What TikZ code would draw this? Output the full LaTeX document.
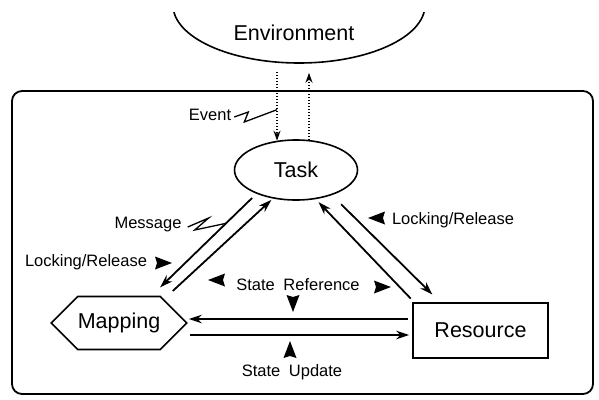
\documentclass[tikz,border=0pt]{standalone}
\usepackage{fontspec}
\setmainfont{Liberation Sans}
\usetikzlibrary{positioning, arrows.meta, shapes.geometric, shapes.symbols}

\tikzset{
  block/.style={draw, line width=1.6pt, font=\fontsize{21.5}{24}\selectfont, inner sep=0pt},
  note/.style={font=\fontsize{16.5}{19}\selectfont, inner sep=0pt},
  flow/.style={line width=1.8pt, -{Stealth[length=13pt,width=8.5pt]}},
  cast/.style={line width=1.8pt, dash pattern=on 1.6pt off 1.4pt, -{Stealth[length=10pt,width=7pt]}},
  bolt/.style={line width=1.3pt, line join=miter},
  cue/.pic={\fill (9,0) -- (-8,6.5) -- (-6,0) -- (-8,-6.5) -- cycle;}
}

\begin{document}
\begin{tikzpicture}[x=1pt,y=-1pt]
\fill[white] (0,0) rectangle (599,399);
\useasboundingbox (0,0) rectangle (599,399);

% environment, only its lower half shows
\begin{scope}
  \clip (0,12) rectangle (599,399);
  \node[draw, ellipse, line width=1.6pt, minimum width=252pt, minimum height=116pt] (env) at (299,5) {};
\end{scope}
\node[font=\fontsize{21.5}{24}\selectfont] (envlabel) at (294,33) {Environment};

% system frame
\draw[line width=1.8pt, rounded corners=10pt] (12,91) rectangle (593,394);

% task, mapping, resource
\node[block, ellipse, minimum width=123pt, minimum height=60pt] (task) at (296,170) {Task};
\node[block, signal, signal to=west and east, signal pointer angle=90,
      minimum width=132pt, minimum height=53pt] (map) at (119,323) {Mapping};
\node[block, rectangle, minimum width=135pt, minimum height=55pt] (res) at (480.5,330.5) {Resource};

% events in and out
\draw[cast] ([xshift=-22pt,yshift=-8pt]env.south) -- coordinate[pos=0.55] (evhit) ([xshift=-19pt,yshift=-1.5pt]task.north);
\draw[cast] ([xshift=13pt,yshift=-1pt]task.north) -- ([xshift=10pt,yshift=-9pt]env.south);

% task <-> mapping
\draw[flow, shorten <=6pt, shorten >=12pt] (task.211) -- coordinate[pos=0.29] (msghit) (map.40);
\draw[flow, shorten <=12pt, shorten >=2pt] (map.28) -- (task.231);

% task <-> resource
\draw[flow, shorten <=5pt, shorten >=4pt] ([xshift=2pt]res.north west) -- (task.304);
\draw[flow, shorten <=13pt, shorten >=11pt] (task.325) -- ([xshift=28pt]res.north west);

% mapping <-> resource
\draw[flow] ([xshift=-4pt,yshift=11.5pt]res.west) coordinate (rtop) -- ([xshift=1pt]map.east |- rtop);
\draw[flow] ([xshift=2pt,yshift=-12pt]map.east) coordinate (mlow) -- ([xshift=-3pt]res.west |- mlow);

% labels
\node[note] (event) at (210,115) {Event};
\node[note] (message) at (148,225) {Message};
\node[note] (lockleft) at (86,262) {Locking/Release};
\node[note] (lockright) at (453,220) {Locking/Release};
\node[note] (stateref) at (298,285) {State\hspace{4pt} Reference};
\node[note] (stateupd) at (292,372) {State\hspace{4pt} Update};

% lightning marks
\draw[bolt] ([xshift=3pt,yshift=-2pt]event.east) -- ++(14,-5) -- ++(-4,10) -- (evhit);
\draw[bolt] ([xshift=6pt,yshift=-2pt]message.east) -- ++(21,-9) -- ++(-14,12) -- (msghit);

% direction cues
\pic at (163,263) {cue};
\pic[rotate=180] at (377,218) {cue};
\pic[rotate=180] at (217,280) {cue};
\pic at (382,287) {cue};
\pic[rotate=-90] at (293,303) {cue};
\pic[rotate=90] at (290,350) {cue};
\end{tikzpicture}
\end{document}
